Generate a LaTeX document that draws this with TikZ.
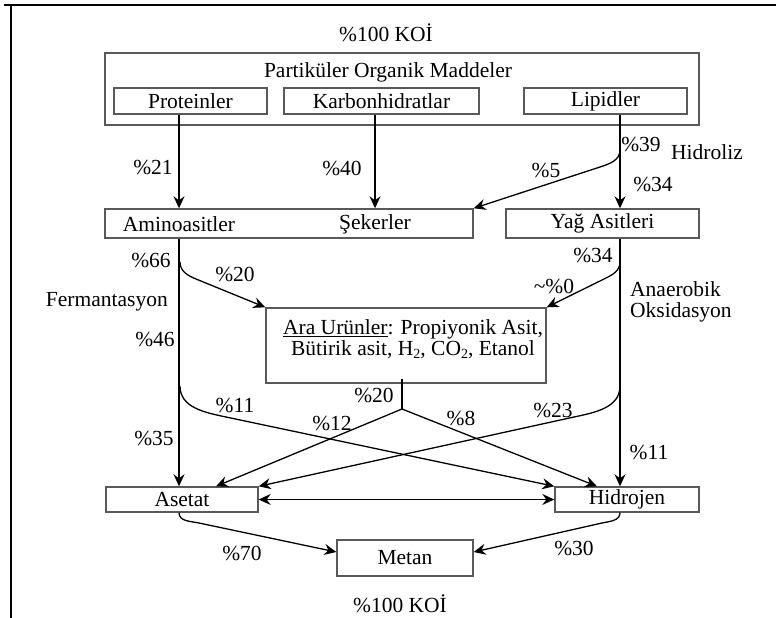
\documentclass[tikz,border=0pt]{standalone}
\usepackage{fontspec}
\setmainfont{Liberation Serif}
\usetikzlibrary{arrows.meta}
\newcommand\lowtwo{{\fontsize{14}{14}\selectfont\raisebox{-3pt}{2}}}
\begin{document}
\begin{tikzpicture}[x=1pt,y=-1pt,
  every node/.style={font=\fontsize{21.5}{19}\selectfont, inner sep=0pt},
  box/.style={draw=black!65, line width=1.4pt, rectangle},
  tip/.style={},
  flow/.style={line width=1.3pt, -{Stealth[length=12pt,width=11pt,inset=4pt]}},
  both/.style={line width=1.3pt, {Stealth[length=12pt,width=11pt,inset=4pt]}-{Stealth[length=12pt,width=11pt,inset=4pt]}},
  plain/.style={line width=1.3pt}]
\useasboundingbox (0,0) rectangle (776,618);

% frame lines
\draw[line width=1.6pt] (4,5) -- (776,5);
\draw[line width=1.6pt] (11,5) -- (11,618);

% column guides
\coordinate (rcol) at (620,0);
\coordinate (mcol) at (402,0);

% top block
\node (ktop) at (386,33) {\%100 KOİ};
\node[box, minimum width=594pt, minimum height=72pt] (pom) at (402,89) {};
\node (pomt) at (388,72) {Partiküler Organik Maddeler};
\node[box, minimum width=153pt, minimum height=26pt] (prot) at (190.5,101) {Proteinler};
\node[box, minimum width=195pt, minimum height=26pt] (karb) at (381.5,101) {Karbonhidratlar};
\node[box, minimum width=163pt, minimum height=26pt] (lip) at (605.5,101) {Lipidler};

% hydrolysis products
\node[box, minimum width=368pt, minimum height=29pt] (amibox) at (289,223.5) {};
\node (amino) at (179,224) {Aminoasitler};
\node (seker) at (375,224) {Şekerler};
\node[box, minimum width=193pt, minimum height=29pt] (yag) at (602.5,223.5) {Yağ Asitleri};

% intermediates
\node[box, minimum width=280pt, minimum height=75pt] (ara) at (406,345.5) {};
\node[align=center] (arat) at (413,339) {\underline{Ara Urünler}: Propiyonik Asit,\\ Bütirik asit, H\lowtwo, CO\lowtwo, Etanol};

% end products
\node[box, minimum width=152pt, minimum height=25pt] (ase) at (182,499.5) {Asetat};
\node[box, minimum width=144pt, minimum height=25pt] (hid) at (627,499.5) {Hidrojen};
\node[box, minimum width=136pt, minimum height=36pt] (met) at (405,558) {Metan};
\node (kbot) at (400,604) {\%100 KOİ};

% hydrolysis arrows
\draw[flow] (prot.south -| amino) -- (amino |- amibox.north);
\draw[flow] (karb.south -| seker) -- (seker |- amibox.north);
\draw[flow] (lip.south -| rcol) -- (rcol |- yag.north);
\coordinate (b5) at (620,150);
\coordinate (k5) at (600,167);
\draw[flow] (b5) to[out=-90,in=18] (k5) -- (amibox.north east);

% fermentation / oxidation columns
\draw[flow] (amino |- amibox.south) -- (amino |- ase.north);
\draw[flow] (rcol |- yag.south) -- (rcol |- hid.north);
\coordinate (b20) at (180,262);
\coordinate (k20) at (196,279);
\draw[flow] (b20) to[out=-90,in=158] (k20) -- (ara.north west);
\coordinate (b0) at (620,262);
\coordinate (k0) at (604,279);
\draw[flow] (b0) to[out=-90,in=26] (k0) -- (ara.north east);

% crossing flows
\coordinate (b11) at (180,386);
\coordinate (k11) at (226,417);
\draw[flow] (b11) to[out=-90,in=168] (k11) -- (hid.north west);
\coordinate (b23) at (620,386);
\coordinate (k23) at (574,417);
\draw[flow] (b23) to[out=-90,in=12] (k23) -- (ase.north east);

% intermediates to acetate and hydrogen
\coordinate (mb) at (402,409);
\draw[plain] ([yshift=5pt]mcol |- ara.south) -- (mb);
\draw[flow] (mb) -- ([xshift=34pt]ase.north);
\draw[flow] (mb) -- ([xshift=-30pt]hid.north);
\draw[both] (ase.east) -- (hid.west);

% methane formation
\coordinate (km1) at (199,523);
\draw[flow] (amino |- ase.south) to[out=-90,in=168] (km1) -- ([yshift=6pt]met.west);
\coordinate (km2) at (602,523);
\draw[flow] (rcol |- hid.south) to[out=-90,in=12] (km2) -- ([yshift=6pt]met.east);

% percentages and process names
\node at (153,167) {\%21};
\node at (342,168) {\%40};
\node at (546,170) {\%5};
\node at (641,144) {\%39};
\node at (653,184) {\%34};
\node at (707,152) {Hidroliz};
\node at (151,260) {\%66};
\node at (235,274) {\%20};
\node at (593,255) {\%34};
\node at (554,286) {\textasciitilde\%0};
\node[anchor=east] at (168,302) {Fermantasyon};
\node[anchor=west, align=left, font=\fontsize{21.5}{20.5}\selectfont] at (630,302) {Anaerobik\\Oksidasyon};
\node at (155,339) {\%46};
\node at (374,395) {\%20};
\node at (235,405) {\%11};
\node at (332,423) {\%12};
\node at (461,418) {\%8};
\node at (553,410) {\%23};
\node at (154,438) {\%35};
\node at (649,452) {\%11};
\node at (242,553) {\%70};
\node at (574,548) {\%30};
\end{tikzpicture}
\end{document}
